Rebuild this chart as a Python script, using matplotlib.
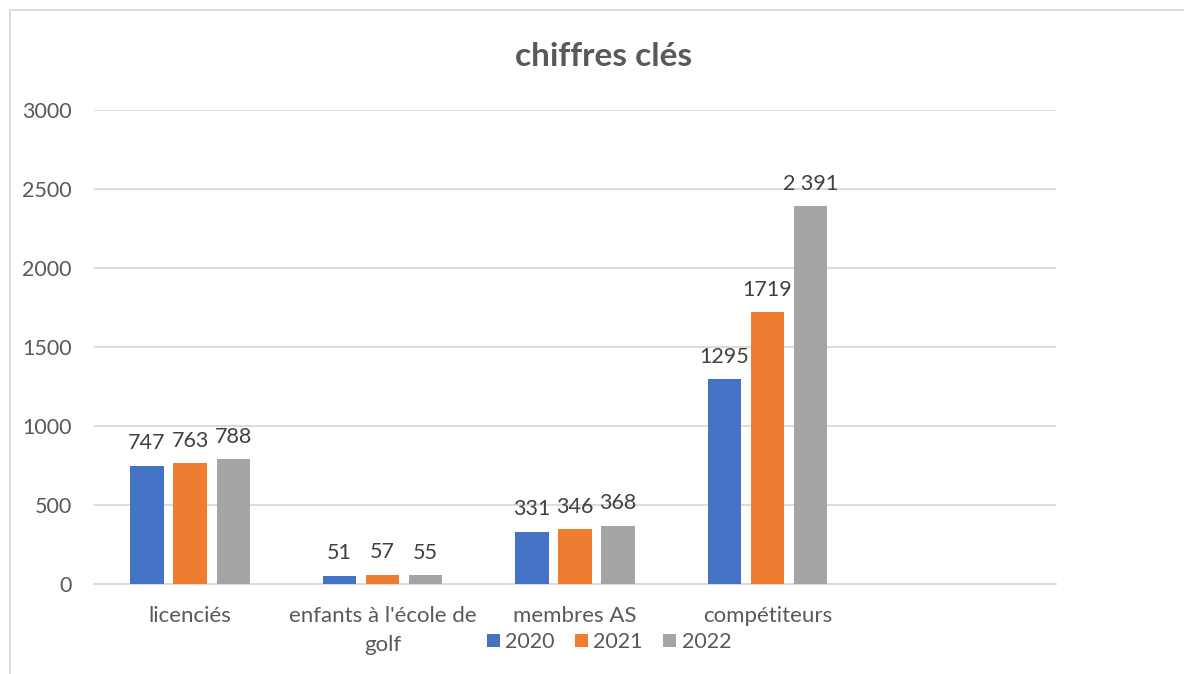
import matplotlib
matplotlib.use("Agg")
import matplotlib.pyplot as plt
from matplotlib.patches import Rectangle
import numpy as np

categories = ["licenciés", "enfants à l'école de\ngolf", "membres AS", "compétiteurs", ""]
years = ["2020", "2021", "2022"]
v2020 = [747, 51, 331, 1295, np.nan]
v2021 = [763, 57, 346, 1719, np.nan]
v2022 = [788, 55, 368, 2391, np.nan]
label_override = {2391: "2 391"}
colors = ["#4472C4", "#ED7D31", "#A5A5A5"]
yticks = [0, 500, 1000, 1500, 2000, 2500, 3000]

plt.rcParams['font.family'] = ['Lato', 'DejaVu Sans']
W, H = 1184, 674
fig = plt.figure(figsize=(W / 100, H / 100), dpi=100)
fig.patch.set_facecolor("white")

# outer frame
fig.add_artist(Rectangle((10 / W, -0.1), 1.2, 1 - 10 / H + 0.1, transform=fig.transFigure,
                         fill=False, edgecolor="#D9D9D9", linewidth=1.3))

ax = fig.add_axes([94 / W, 1 - 584 / H, (1056 - 94) / W, (584 - 110) / H])
x = np.arange(len(categories))
bw = 0.174
step = 0.224
series = [v2020, v2021, v2022]
for i, (vals, c, yr) in enumerate(zip(series, colors, years)):
    pos = x + (i - 1) * step
    ax.bar(pos, vals, width=bw, color=c, label=yr, zorder=3)
    for p, v in zip(pos, vals):
        if np.isnan(v):
            continue
        txt = label_override.get(int(v), str(int(v)))
        ax.annotate(txt, (p, v), xytext=(0, 9), textcoords="offset points",
                    ha="center", va="bottom", fontsize=15.5, color="#404040")

ax.set_xlim(-0.5, len(categories) - 0.5)
ax.set_ylim(0, 3000)
ax.set_yticks(yticks)
ax.set_yticklabels([str(t) for t in yticks])
ax.set_xticks(x)
ax.set_xticklabels(categories, linespacing=1.55)
ax.tick_params(axis="both", length=0, labelcolor="#595959")
ax.tick_params(axis="y", pad=16, labelsize=15.5)
ax.tick_params(axis="x", pad=16, labelsize=16)
ax.grid(axis="y", color="#D9D9D9", linewidth=1.3, zorder=0)
for s in ["top", "right", "left"]:
    ax.spines[s].set_visible(False)
ax.spines["bottom"].set_color("#D9D9D9")
ax.spines["bottom"].set_linewidth(1.3)

fig.text(604 / W, 1 - 56 / H, "chiffres clés", ha="center", va="center",
         fontsize=24, fontweight="bold", color="#595959")

fig.legend(loc="center", bbox_to_anchor=(609 / W, 1 - 642 / H), ncol=3, frameon=False,
           fontsize=15.5, labelcolor="#595959", handlelength=0.6, handleheight=0.6,
           handletextpad=0.25, columnspacing=0.95)

fig.savefig("out.png", dpi=100, facecolor="white")
